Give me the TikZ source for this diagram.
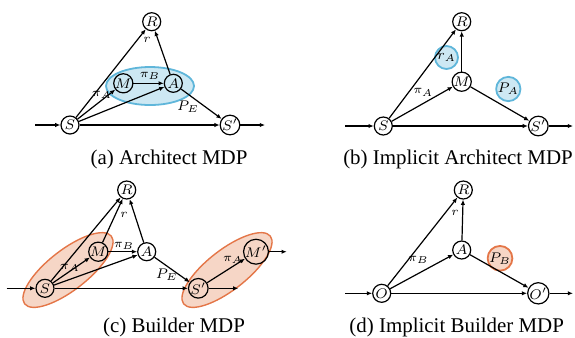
\documentclass[tikz,border=0pt]{standalone}
\usepackage{fontspec}
\setmainfont{Liberation Serif}
\usetikzlibrary{arrows.meta}
\tikzset{
  state/.style={draw,circle,inner sep=0pt,minimum size=9bp,font=\fontsize{7.5}{8}\selectfont},
  lbl/.style={inner sep=0pt,font=\fontsize{6}{7}\selectfont},
  caption/.style={inner sep=0pt,font=\fontsize{10.5}{12}\selectfont},
  bluegrp/.style={draw=grpblueline,fill=grpblue,line width=0.9bp},
  orangegrp/.style={draw=grporangeline,fill=grporange,line width=0.7bp},
}
\definecolor{grpblue}{RGB}{205,232,243}
\definecolor{grpblueline}{RGB}{95,182,218}
\definecolor{grporange}{RGB}{246,214,198}
\definecolor{grporangeline}{RGB}{228,118,72}
\begin{document}
\begin{tikzpicture}[>={Latex[length=2.6bp,width=2.2bp]},line join=bevel,x=0.5bp,y=-0.5bp,line width=0.6bp]
\useasboundingbox (0,0) rectangle (575,337);
%% (a) architect
  % group: M, A
  \draw[bluegrp] (150,86) ellipse (44 and 19);
  \node[state] (Ra) at (151.7,21.7) {$R$};
  \node[state] (Ma) at (123.3,83.3) {$M$};
  \node[state] (Aa) at (173.3,83.3) {$A$};
  \node[state] (Sa) at (70,125) {$S$};
  \node[state] (Sa') at (230,125) {$S'$};
  \coordinate (ina) at (35,125);
  \coordinate (outa) at (265,125);
  \draw[->] (ina) -- (Sa);
  \draw[->] (Sa') -- (outa);
  \draw[->] (Sa) -- (Ra);
  \draw[->] (Aa) -- (Ra);
  \draw[->] (Sa) -- (Ma);
  \draw[->] (Sa) -- (Aa);
  \draw[->] (Ma) -- (Aa);
  \draw[->] (Aa) -- (Sa');
  \draw[->] (Sa) -- (Sa');
  \node[lbl] (ra) at (147,40) {$r$};
  \node[lbl] (piAa) at (102,95) {$\pi_A$};
  \node[lbl] (piBa) at (150,76) {$\pi_B$};
  \node[lbl,font=\fontsize{7}{8}\selectfont] (PEa) at (188,107) {$P_E$};
  \node[caption] (capa) at (169,159) {(a) Architect MDP};
%% (b) implicit architect
  \node[state] (Rb) at (461.7,21.7) {$R$};
  \node[state] (Mb) at (461.7,81.7) {$M$};
  \node[state] (Sb) at (383.3,126) {$S$};
  \node[state] (Sb') at (538.3,126) {$S'$};
  \coordinate (inb) at (345,126);
  \coordinate (outb) at (573,126);
  \node[state,bluegrp,minimum size=11.5bp] (rAb) at (446.5,57.5) {$r_A$};
  \node[state,bluegrp,minimum size=11.5bp] (PAb) at (508.3,89) {$P_A$};
  \draw[->] (inb) -- (Sb);
  \draw[->] (Sb') -- (outb);
  \draw[->] (Sb) -- (Rb);
  \draw[->] (Mb) -- (Rb);
  \draw[->] (Sb) -- (Mb);
  \draw[->] (Mb) -- (Sb');
  \draw[->] (Sb) -- (Sb');
  \node[lbl] (piAb) at (423.3,92.7) {$\pi_A$};
  \node[caption] (capb) at (458,159) {(b) Implicit Architect MDP};
%% (c) builder
  % groups: S, M and S', M'
  \draw[orangegrp,rotate around={38:(68,270)}] (68,270) ellipse (55 and 20);
  \draw[orangegrp,rotate around={38:(227,270)}] (227,270) ellipse (55 and 20);
  \node[state] (Rc) at (126.7,190) {$R$};
  \node[state] (Mc) at (98.3,251.7) {$M$};
  \node[state] (Ac) at (146.7,251.7) {$A$};
  \node[state] (Sc) at (45,288.3) {$S$};
  \node[state] (Sc') at (198.3,288.3) {$S'$};
  \node[state] (Mc') at (256,251.7) {$M'$};
  \coordinate (inc) at (6.7,288.3);
  \coordinate (outc) at (238.3,288.3);
  \coordinate (outMc) at (286.7,251.7);
  \draw[->] (inc) -- (Sc);
  \draw[->] (Sc') -- (outc);
  \draw[->] (Mc') -- (outMc);
  \draw[->] (Sc) -- (Rc);
  \draw[->] (Mc) -- (Rc);
  \draw[->] (Ac) -- (Rc);
  \draw[->] (Sc) -- (Mc);
  \draw[->] (Sc) -- (Ac);
  \draw[->] (Mc) -- (Ac);
  \draw[->] (Ac) -- (Sc');
  \draw[->] (Sc) -- (Sc');
  \draw[->] (Sc') -- (Mc');
  \node[lbl] (rc) at (124,215) {$r$};
  \node[lbl] (piBc) at (124,246) {$\pi_B$};
  \node[lbl] (piAc) at (70,268) {$\pi_A$};
  \node[lbl,font=\fontsize{7}{8}\selectfont] (PEc) at (166.7,275) {$P_E$};
  \node[lbl] (piAc') at (233,260) {$\pi_A$};
  \node[caption] (capc) at (174,327) {(c) Builder MDP};
%% (d) implicit builder
  \node[state] (Rd) at (463.3,190) {$R$};
  \node[state] (Ad) at (461.7,250) {$A$};
  \node[state] (Od) at (381.7,293.3) {$O$};
  \node[state] (Od') at (538.3,293.3) {$O'$};
  \coordinate (ind) at (345,293.3);
  \coordinate (outd) at (573,293.3);
  \node[state,orangegrp,line width=0.9bp,minimum size=11.5bp] (PBd) at (500,258.3) {$P_B$};
  \draw[->] (ind) -- (Od);
  \draw[->] (Od') -- (outd);
  \draw[->] (Od) -- (Rd);
  \draw[->] (Ad) -- (Rd);
  \draw[->] (Od) -- (Ad);
  \draw[->] (Ad) -- (Od');
  \draw[->] (Od) -- (Od');
  \node[lbl] (rd) at (455,213.3) {$r$};
  \node[lbl] (piBd) at (418.3,260) {$\pi_B$};
  \node[caption] (capd) at (456.7,327) {(d) Implicit Builder MDP};
%
\end{tikzpicture}
\end{document}
